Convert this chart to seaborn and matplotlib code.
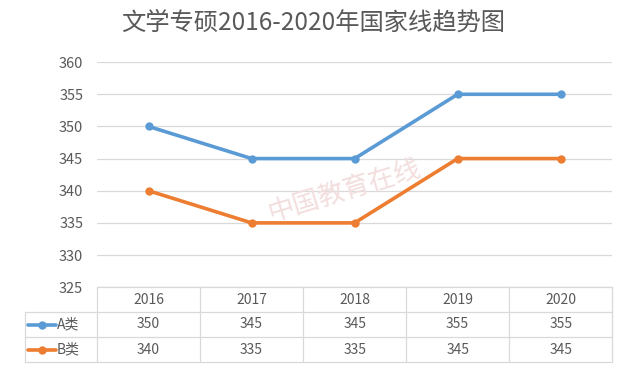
import pandas as pd
import matplotlib
matplotlib.use("Agg")
import matplotlib.pyplot as plt
import seaborn as sns

# 数据
years = ["2016", "2017", "2018", "2019", "2020"]
series_names = ["A类", "B类"]
a_values = [350, 345, 345, 355, 355]
b_values = [340, 335, 335, 345, 345]
colors = ["#5B9BD5", "#ED7D31"]
yticks = [325, 330, 335, 340, 345, 350, 355, 360]

sns.set_theme(style="white")
plt.rcParams["font.family"] = ["Noto Sans CJK SC", "DejaVu Sans"]

txt = "#595959"
grid_c = "#d9d9d9"

df = pd.DataFrame({
    "pos": list(range(len(years))) * 2,
    "score": a_values + b_values,
    "series": [series_names[0]] * len(years) + [series_names[1]] * len(years),
})

fig = plt.figure(figsize=(6.26, 3.72), dpi=100)
ax = fig.add_axes([0.155, 0.228, 0.823, 0.605])

sns.lineplot(data=df, x="pos", y="score", hue="series", palette=colors,
             marker="o", markersize=6, markeredgewidth=0, linewidth=2.6,
             legend=False, ax=ax, zorder=3)

ax.set_xlim(-0.5, len(years) - 0.5)
ax.set_ylim(yticks[0], yticks[-1])
ax.set_yticks(yticks)
ax.set_yticklabels([str(t) for t in yticks], fontsize=10.5, color=txt)
ax.set_xticks([])
ax.set_xlabel("")
ax.set_ylabel("")
ax.yaxis.grid(True, color=grid_c, linewidth=0.9)
ax.tick_params(axis="y", length=0, pad=10)
for s in ax.spines.values():
    s.set_visible(False)

# 水印
ax.text(1.9, 340, "中国教育在线", fontsize=19, color="#f3dede", rotation=17,
        ha="center", va="center", zorder=1)

fig.text(0.5, 0.94, "文学专硕2016-2020年国家线趋势图", ha="center", va="center",
         fontsize=17.5, color=txt)

# 数据表
tax = fig.add_axes([0.155, 1 - 362 / 372, 0.823, 75 / 372])
tax.set_xlim(-0.5, len(years) - 0.5)
tax.set_ylim(0, 3)
tax.axis("off")
left = -1.2
lw = 0.9
for y in [0, 1, 2]:
    tax.plot([left, len(years) - 0.5], [y, y], color=grid_c, lw=lw, clip_on=False)
tax.plot([-0.5, len(years) - 0.5], [3, 3], color=grid_c, lw=lw, clip_on=False)
for i in range(len(years) + 1):
    tax.plot([i - 0.5, i - 0.5], [0, 3], color=grid_c, lw=lw, clip_on=False)
tax.plot([left, left], [0, 2], color=grid_c, lw=lw, clip_on=False)

for i, yr in enumerate(years):
    tax.text(i, 2.5, yr, ha="center", va="center", fontsize=10, color=txt)
for r, (name, vals, c) in enumerate(zip(series_names, [a_values, b_values], colors)):
    yc = 1.5 - r
    tax.plot([-1.17, -0.9], [yc, yc], color=c, lw=2.6, clip_on=False)
    tax.plot([-1.035], [yc], "o", color=c, markersize=6, mew=0, clip_on=False)
    tax.text(-0.89, yc, name, ha="left", va="center", fontsize=10, color=txt)
    for i, v in enumerate(vals):
        tax.text(i, yc, str(v), ha="center", va="center", fontsize=10, color=txt)

fig.savefig("out.png", dpi=100, facecolor="white")
